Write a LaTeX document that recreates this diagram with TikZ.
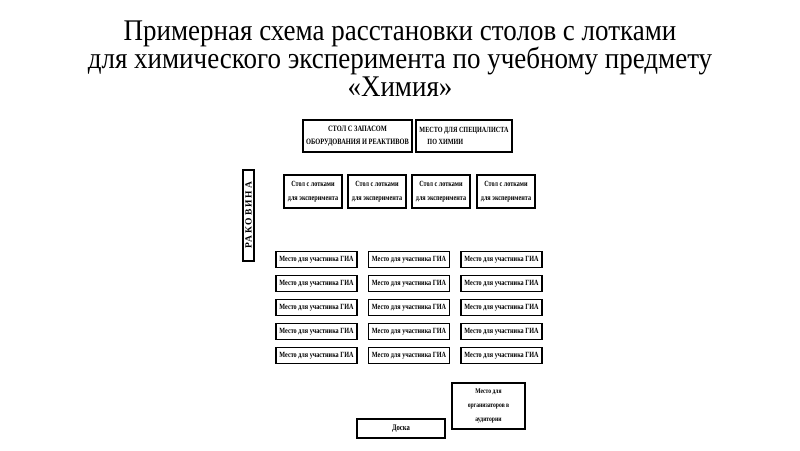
\documentclass[tikz,border=0pt]{standalone}
\usepackage{fontspec}
\setmainfont{Liberation Serif}
\newfontfamily\titlefont[FakeStretch=0.9]{Liberation Serif}
\newfontfamily\boxfont[FakeStretch=0.78]{Liberation Serif Bold}
\newfontfamily\sinkfont[LetterSpace=20]{Liberation Serif Bold}
\begin{document}
\begin{tikzpicture}[x=1pt,y=-1pt,
  box/.style={draw=black,line width=1.4pt,inner sep=0pt,fill=white,align=center,font=\boxfont\fontsize{8}{10}\selectfont},
  ttl/.style={anchor=base,inner sep=0pt,font=\titlefont\fontsize{30}{30}\selectfont}]
\useasboundingbox[fill=white] (0,0) rectangle (800,450);
\node[ttl] (t1) at (400,40) {Примерная схема расстановки столов с лотками};
\node[ttl] (t2) at (400,68) {для химического эксперимента по учебному предмету};
\node[ttl] (t3) at (400,96) {«Химия»};
% top row
\node[box,minimum width=109,minimum height=32,font=\boxfont\fontsize{8.2}{12.5}\selectfont] (sklad) at (357.5,136) {СТОЛ С ЗАПАСОМ\\ОБОРУДОВАНИЯ И РЕАКТИВОВ};
\node[box,minimum width=96,minimum height=32,align=left,font=\boxfont\fontsize{7.9}{12.5}\selectfont] (spec) at (464,136) {МЕСТО ДЛЯ СПЕЦИАЛИСТА\\\hspace{8pt}ПО ХИМИИ};
% experiment tables
\foreach \i/\x in {1/313,2/377,3/441,4/506}{
  \node[box,minimum width=58,minimum height=33,font=\boxfont\fontsize{7.9}{13.5}\selectfont] (exp\i) at (\x,191.5) {Стол с лотками\\для эксперимента};
}
% sink
\node[box,minimum width=91,minimum height=11,rotate=90,font=\sinkfont\fontsize{9.5}{10}\selectfont] (sink) at (248.5,215.5) {РАКОВИНА};
% participant seats
\foreach \c/\x in {1/316.5,2/409,3/501.5}{
  \foreach \r/\y in {1/259.5,2/283.5,3/307.5,4/331.5,5/355.5}{
    \node[box,minimum width=81,minimum height=16,font=\boxfont\fontsize{7.9}{9}\selectfont] (gia\c\r) at (\x,\y) {Место для участника ГИА};
  }
}
% organizers
\node[box,minimum width=73,minimum height=46,font=\boxfont\fontsize{7.2}{14}\selectfont] (org) at (488.5,406) {Место для\\организаторов в\\аудитории};
% board
\node[box,minimum width=88,minimum height=19,font=\boxfont\fontsize{8.5}{9}\selectfont] (board) at (401,428.5) {Доска};
\end{tikzpicture}
\end{document}
